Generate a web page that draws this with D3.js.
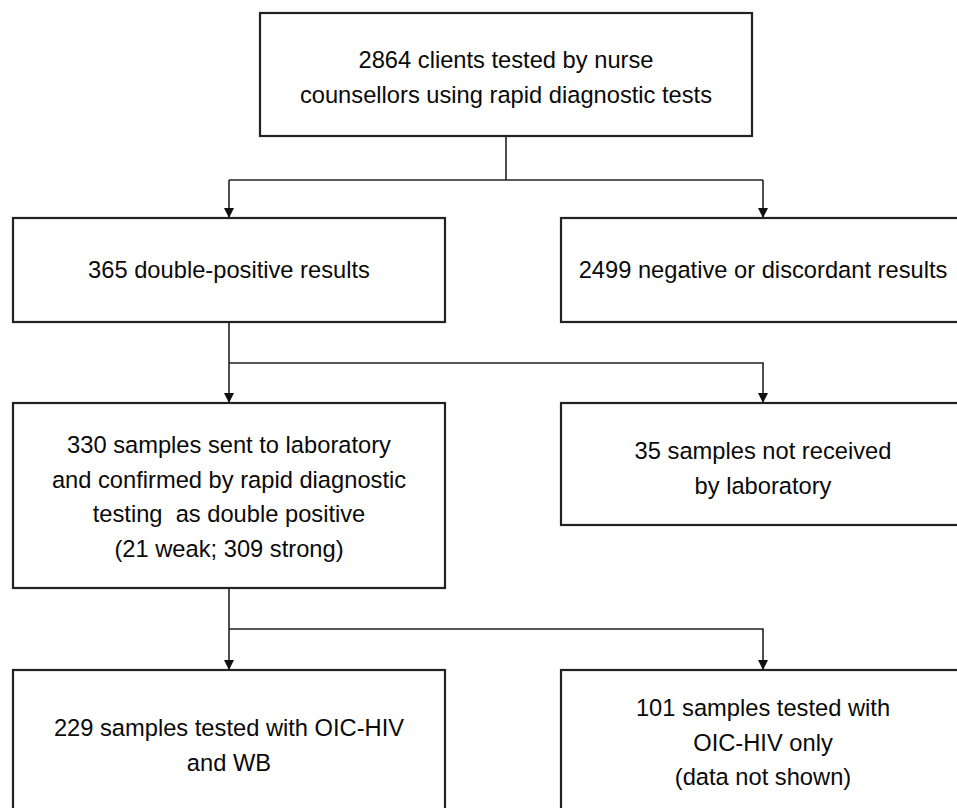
<!DOCTYPE html>
<html>
<head>
<meta charset="utf-8">
<script src="https://cdnjs.cloudflare.com/ajax/libs/d3/7.8.5/d3.min.js"></script>
<style>
  html, body { margin: 0; padding: 0; background: #fff; }
  svg { display: block; }
  text { font-family: "Liberation Sans", Arial, sans-serif; fill: #0a0a0a; white-space: pre; }
</style>
</head>
<body>
<svg id="flow" width="957" height="808"></svg>
<script>
// node labels, one array of lines per box
const topLabel = ['2864 clients tested by nurse', 'counsellors using rapid diagnostic tests'];
const row2Labels = [['365 double-positive results'], ['2499 negative or discordant results']];
const row3Labels = [
  ['330 samples sent to laboratory', 'and confirmed by rapid diagnostic', 'testing  as double positive', '(21 weak; 309 strong)'],
  ['35 samples not received', 'by laboratory']
];
const row4Labels = [['229 samples tested with OIC-HIV', 'and WB'], ['101 samples tested with', 'OIC-HIV only', '(data not shown)']];

const columns = ['left', 'right'];

const svg = d3.select('#flow');
const col = d3.scaleOrdinal().domain(columns).range([229, 763]);
const leftHalf = 216;
const rightHalf = 202;
const lineH = 34.5;

svg.append('defs').append('marker')
  .attr('id', 'arrow')
  .attr('viewBox', '0 0 10 10')
  .attr('refX', 10).attr('refY', 5)
  .attr('markerUnits', 'userSpaceOnUse')
  .attr('markerWidth', 10).attr('markerHeight', 11)
  .attr('orient', 'auto')
  .append('path')
  .attr('d', 'M0,0L10,5L0,10Z')
  .attr('fill', '#111');

const drawBox = (cx, top, bottom, half) => {
  svg.append('rect')
    .attr('x', cx - half).attr('y', top)
    .attr('width', half * 2).attr('height', bottom - top)
    .attr('fill', '#fff')
    .attr('stroke', '#222')
    .attr('stroke-width', 2.2);
};

const drawText = (cx, firstY, lines) => {
  svg.append('text')
    .attr('text-anchor', 'middle')
    .attr('font-size', 23.7)
    .selectAll('tspan')
    .data(lines)
    .join('tspan')
    .attr('x', cx)
    .attr('y', (d, i) => firstY + i * lineH)
    .text(d => d);
};

const link = (pts, arrow) => {
  svg.append('path')
    .attr('d', d3.line()(pts))
    .attr('fill', 'none')
    .attr('stroke', '#222')
    .attr('stroke-width', 1.6)
    .attr('marker-end', arrow ? 'url(#arrow)' : null);
};

// connectors first so boxes sit on top
const topCx = 506;
link([[topCx, 136], [topCx, 180]], false);
link([[col('left'), 180], [col('right'), 180]], false);
columns.forEach(c => link([[col(c), 180], [col(c), 218]], true));

link([[col('left'), 322], [col('left'), 403]], true);
link([[col('left'), 363], [col('right'), 363], [col('right'), 403]], true);

link([[col('left'), 588], [col('left'), 670]], true);
link([[col('left'), 629], [col('right'), 629], [col('right'), 670]], true);

// boxes
drawBox(topCx, 13, 136, 246);
drawText(topCx, 68, topLabel);

drawBox(col('left'), 218, 322, leftHalf);
drawBox(col('right'), 218, 322, rightHalf);
drawText(col('left'), 278, row2Labels[0]);
drawText(col('right'), 278, row2Labels[1]);

drawBox(col('left'), 403, 588, leftHalf);
drawBox(col('right'), 403, 525, rightHalf);
drawText(col('left'), 453, row3Labels[0]);
drawText(col('right'), 459, row3Labels[1]);

drawBox(col('left'), 670, 860, leftHalf);
drawBox(col('right'), 670, 860, rightHalf);
drawText(col('left'), 736, row4Labels[0]);
drawText(col('right'), 716, row4Labels[1]);
</script>
</body>
</html>
